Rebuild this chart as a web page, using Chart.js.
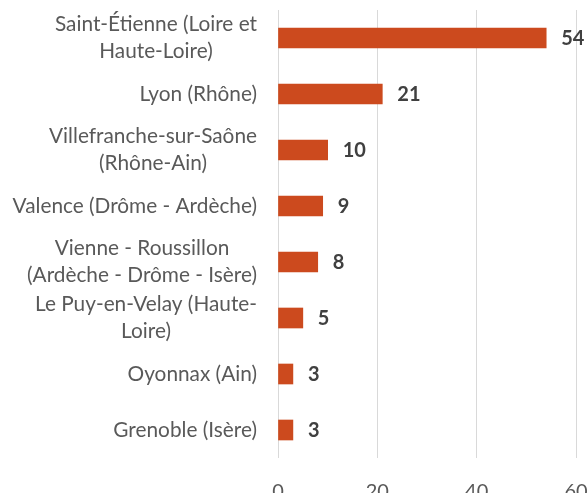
<!DOCTYPE html>
<html>
<head>
<meta charset="utf-8">
<script src="https://cdn.jsdelivr.net/npm/chart.js@4"></script>
<style>
  html, body { margin: 0; padding: 0; background: #fff; }
  #wrap { width: 587px; height: 493px; }
</style>
</head>
<body>
<div id="wrap"><canvas id="chart"></canvas></div>
<script>
// villes / bassins et nombre
var villes = [
    ['Saint-Étienne (Loire et', 'Haute-Loire)'],
    'Lyon (Rhône)',
    ['Villefranche-sur-Saône', '(Rhône-Ain)'],
    'Valence (Drôme - Ardèche)',
    ['Vienne - Roussillon', '(Ardèche - Drôme - Isère)'],
    ['Le Puy-en-Velay (Haute-', 'Loire)'],
    'Oyonnax (Ain)',
    'Grenoble (Isère)'
];
var valeurs = [54, 21, 10, 9, 8, 5, 3, 3];
var ticksX = [0, 20, 40, 60];

var police = 'Lato, "Open Sans", sans-serif';

// valeur au bout de chaque barre
var etiquettes = {
    id: 'etiquettes',
    afterDatasetsDraw: function(chart) {
        var c = chart.ctx;
        var meta = chart.getDatasetMeta(0);
        c.save();
        c.font = 'bold 20px ' + police;
        c.fillStyle = '#404040';
        c.textAlign = 'left';
        c.textBaseline = 'middle';
        meta.data.forEach(function(bar, i) {
            c.fillText(valeurs[i], bar.x + 15, bar.y + 1);
        });
        c.restore();
    }
};

// libellés des villes : bloc aligné à droite, lignes centrées (comme Excel)
var libelles = {
    id: 'libelles',
    afterDraw: function(chart) {
        var c = chart.ctx;
        var y = chart.scales.y;
        var droite = chart.chartArea.left - 21;
        var hLigne = 27;
        c.save();
        c.font = '20.8px ' + police;
        c.fillStyle = '#595959';
        c.textAlign = 'center';
        c.textBaseline = 'middle';
        villes.forEach(function(lib, i) {
            var lignes = Array.isArray(lib) ? lib : [lib];
            var larg = Math.max.apply(null, lignes.map(function(l) { return c.measureText(l).width; }));
            var cx = droite - larg / 2;
            var py = y.getPixelForTick(i) - (lignes.length - 1) * hLigne / 2;
            lignes.forEach(function(l, k) {
                c.fillText(l, cx, py + k * hLigne);
            });
        });
        c.restore();
    }
};

var ctx = document.getElementById('chart').getContext('2d');
var myChart = new Chart(ctx, {
    type: 'bar',
    data: {
        labels: villes,
        datasets: [{
            data: valeurs,
            backgroundColor: '#CC4A1E',
            borderWidth: 0,
            barThickness: 20
        }]
    },
    plugins: [etiquettes, libelles],
    options: {
        indexAxis: 'y',
        responsive: true,
        maintainAspectRatio: false,
        animation: false,
        layout: { padding: { top: 10, right: 11, left: 0, bottom: 0 } },
        scales: {
            x: {
                min: 0, max: 60,
                afterBuildTicks: function(s) { s.ticks = ticksX.map(function(v) { return { value: v }; }); },
                afterFit: function(s) { s.height = 35; s.paddingLeft = 0; s.paddingRight = 0; },
                grid: { color: '#D9D9D9', lineWidth: 1, drawTicks: false },
                border: { display: false },
                ticks: { color: '#595959', padding: 22, maxRotation: 0, font: { family: police, size: 20 } }
            },
            y: {
                afterFit: function(s) { s.width = 278; s.paddingTop = 0; s.paddingBottom = 0; },
                grid: { display: false, drawTicks: false },
                border: { display: false },
                ticks: { display: false, autoSkip: false }
            }
        },
        plugins: {
            legend: { display: false },
            tooltip: { enabled: false }
        }
    }
});
</script>
</body>
</html>
